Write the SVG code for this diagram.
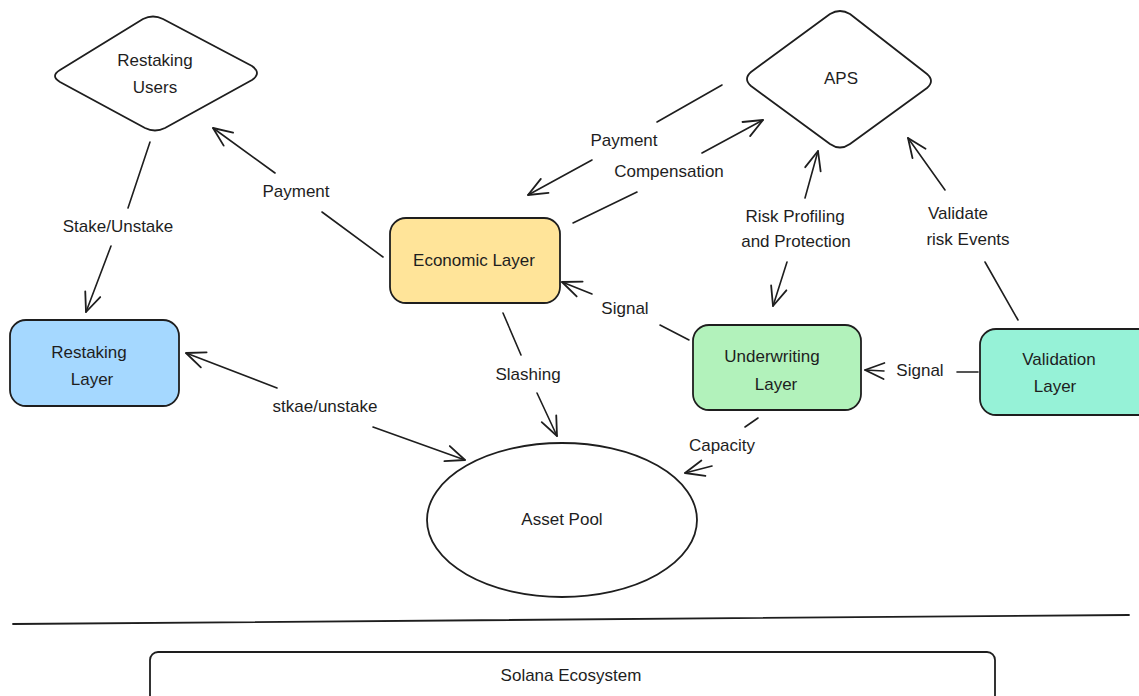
<svg xmlns="http://www.w3.org/2000/svg" width="1139" height="696" viewBox="0 0 1139 696">
<defs>
<marker id="ah" markerWidth="24" markerHeight="24" refX="0" refY="0" viewBox="-22 -12 24 24" orient="auto" markerUnits="userSpaceOnUse">
<path d="M -19 -8 L 0 0 L -19 8" fill="none" stroke="#1e1e1e" stroke-width="1.8" stroke-linecap="round" stroke-linejoin="round"/>
</marker>
<style>
.t{font-family:"Liberation Sans","DejaVu Sans",sans-serif;font-size:17px;fill:#1e1e1e;text-anchor:middle;dominant-baseline:middle}
.s{stroke:#1e1e1e;stroke-width:1.8;stroke-linecap:round;stroke-linejoin:round}
.c{stroke:#1e1e1e;stroke-width:1.6;fill:none;stroke-linecap:round}
</style>
</defs>
<rect width="1139" height="696" fill="#ffffff"/>

<g id="restaking-users">
<path class="s" d="M 60 70 L 143 19 Q 153 14 163 19 L 252 66 Q 262 73 252 80 L 165 128 Q 155 133 145 128 L 60 82 Q 50 76 60 70 Z" fill="#ffffff"/>
<text class="t" x="155" y="62">Restaking</text>
<text class="t" x="155" y="89">Users</text>
</g>

<g id="aps">
<path class="s" d="M 751 72 L 830 14 Q 840 8 850 14 L 927 74 Q 935 81 927 88 L 850 144 Q 840 151 830 144 L 751 86 Q 743 79 751 72 Z" fill="#ffffff"/>
<text class="t" x="841" y="80">APS</text>
</g>

<g id="economic-layer">
<rect class="s" x="390" y="218" width="170" height="85" rx="16" fill="#ffe499"/>
<text class="t" x="474" y="262">Economic Layer</text>
</g>

<g id="restaking-layer">
<rect class="s" x="10" y="320" width="169" height="86" rx="16" fill="#a5d8ff"/>
<text class="t" x="89" y="354">Restaking</text>
<text class="t" x="92" y="381">Layer</text>
</g>

<g id="underwriting-layer">
<rect class="s" x="693" y="325" width="168" height="85" rx="16" fill="#b2f2bb"/>
<text class="t" x="772" y="358">Underwriting</text>
<text class="t" x="776" y="386">Layer</text>
</g>

<g id="validation-layer">
<rect class="s" x="980" y="329" width="175" height="86" rx="16" fill="#96f2d7"/>
<text class="t" x="1059" y="361">Validation</text>
<text class="t" x="1055" y="388">Layer</text>
</g>

<g id="asset-pool">
<ellipse class="s" cx="562" cy="520" rx="135" ry="77" fill="#ffffff"/>
<text class="t" x="562" y="521">Asset Pool</text>
</g>

<g id="divider">
<line class="s" x1="13" y1="624" x2="1129" y2="615"/>
</g>

<g id="solana-ecosystem">
<rect class="s" x="150" y="652" width="845" height="60" rx="8" fill="#ffffff"/>
<text class="t" x="571" y="677">Solana Ecosystem</text>
</g>

<g id="connectors">
<line class="c" x1="150" y1="142" x2="128" y2="208"/>
<line class="c" x1="111" y1="246" x2="86" y2="312" marker-end="url(#ah)"/>
<text class="t" x="118" y="228">Stake/Unstake</text>
<line class="c" x1="383" y1="257" x2="322" y2="212"/>
<line class="c" x1="275" y1="173" x2="213" y2="128" marker-end="url(#ah)"/>
<text class="t" x="296" y="193">Payment</text>
<line class="c" x1="722" y1="85" x2="657" y2="122"/>
<line class="c" x1="592" y1="160" x2="528" y2="195" marker-end="url(#ah)"/>
<text class="t" x="624" y="142">Payment</text>
<line class="c" x1="573" y1="223" x2="637" y2="192"/>
<line class="c" x1="702" y1="153" x2="763" y2="120" marker-end="url(#ah)"/>
<text class="t" x="669" y="173">Compensation</text>
<line class="c" x1="805" y1="198" x2="818" y2="151" marker-end="url(#ah)"/>
<line class="c" x1="787" y1="262" x2="773" y2="306" marker-end="url(#ah)"/>
<text class="t" x="795" y="218">Risk Profiling</text>
<text class="t" x="796" y="243">and Protection</text>
<line class="c" x1="1018" y1="320" x2="985" y2="262"/>
<line class="c" x1="945" y1="190" x2="908" y2="138" marker-end="url(#ah)"/>
<text class="t" x="958" y="215">Validate</text>
<text class="t" x="968" y="241">risk Events</text>
<line class="c" x1="689" y1="340" x2="660" y2="325"/>
<line class="c" x1="592" y1="294" x2="562" y2="282" marker-end="url(#ah)"/>
<text class="t" x="625" y="310">Signal</text>
<line class="c" x1="978" y1="372" x2="957" y2="372"/>
<line class="c" x1="884" y1="371" x2="865" y2="370" marker-end="url(#ah)"/>
<text class="t" x="920" y="372">Signal</text>
<line class="c" x1="503" y1="313" x2="521" y2="355"/>
<line class="c" x1="537" y1="393" x2="557" y2="436" marker-end="url(#ah)"/>
<text class="t" x="528" y="376">Slashing</text>
<line class="c" x1="277" y1="388" x2="186" y2="353" marker-end="url(#ah)"/>
<line class="c" x1="373" y1="427" x2="465" y2="460" marker-end="url(#ah)"/>
<text class="t" x="325" y="408">stkae/unstake</text>
<line class="c" x1="758" y1="418" x2="745" y2="427"/>
<line class="c" x1="712" y1="466" x2="685" y2="473" marker-end="url(#ah)"/>
<text class="t" x="722" y="447">Capacity</text>
</g>
</svg>
